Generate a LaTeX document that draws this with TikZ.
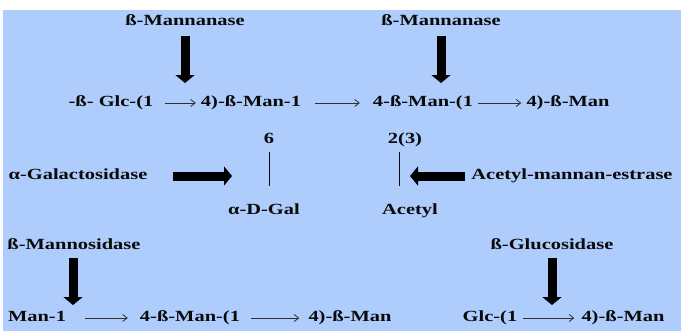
\documentclass[tikz,border=0pt]{standalone}
\usepackage{fontspec}
\setmainfont{Liberation Serif}
\usepackage{graphicx}
\usetikzlibrary{arrows.meta}
\definecolor{bgblue}{RGB}{174,204,252}
\definecolor{ink}{RGB}{10,10,10}
\newcommand{\sx}[1]{\scalebox{1.32}[1]{#1}}
\begin{document}
\begin{tikzpicture}[x=1pt,y=-1pt,
  lbl/.style={inner sep=0pt, text=ink, text height=10pt, text depth=3pt,
    font=\fontsize{15.5}{17}\selectfont\bfseries},
  fat/.style={line width=9pt, draw=black, -{Triangle[width=19pt,length=8pt]}},
  thinarr/.style={line width=0.8pt, draw=ink!85, -{Straight Barb[length=4.5pt,width=7pt]}},
  bond/.style={line width=0.8pt, draw=ink}]
\useasboundingbox (0,0) rectangle (681,333);
\fill[bgblue] (3,10) rectangle (681,331);
% top enzymes
\node[lbl] (m1) at (185,22) {\sx{ß-Mannanase}};
\node[lbl] (m2) at (441,22) {\sx{ß-Mannanase}};
\coordinate (m1t) at (185,83);
\coordinate (m2t) at (441,83);
\draw[fat] ([yshift=-7pt]m1.south) -- (m1t);
\draw[fat] ([yshift=-7pt]m2.south) -- (m2t);
% row 1
\node[lbl] (a1) at (111,103) {\sx{-ß- Glc-(1}};
\node[lbl] (a2) at (251,103) {\sx{4)-ß-Man-1}};
\node[lbl] (a3) at (423,103) {\sx{4-ß-Man-(1}};
\node[lbl] (a4) at (568,103) {\sx{4)-ß-Man}};
\draw[thinarr] ([xshift=11pt]a1.east) -- ([xshift=-5pt]a2.west);
\draw[thinarr] ([xshift=14pt]a2.east) -- ([xshift=-13pt]a3.west);
\draw[thinarr] ([xshift=5pt]a3.east) -- ([xshift=-5pt]a4.west);
% middle
\node[lbl] (six) at (269,140) {\sx{6}};
\node[lbl] (two) at (405,140) {\sx{2(3)}};
\node[lbl] (gal) at (264,211) {\sx{α-D-Gal}};
\node[lbl] (ace) at (410,211) {\sx{Acetyl}};
\draw[bond] ([yshift=-5pt]six.south) -- ([yshift=-39pt]six.south);
\draw[bond] ([xshift=-6pt,yshift=-5pt]two.south) -- ([xshift=-6pt,yshift=-39pt]two.south);
\node[lbl] (agal) at (78,176) {\sx{α-Galactosidase}};
\node[lbl] (ame) at (572,176) {\sx{Acetyl-mannan-estrase}};
\coordinate (gt) at (232,176);
\coordinate (et) at (410,176);
\draw[fat] ([xshift=25pt]agal.east) -- (gt);
\draw[fat] ([xshift=-6pt]ame.west) -- (et);
% bottom enzymes
\node[lbl] (bm) at (74,246) {\sx{ß-Mannosidase}};
\node[lbl] (bg) at (552,246) {\sx{ß-Glucosidase}};
\coordinate (bmt) at (73,305);
\coordinate (bgt) at (552,305);
\draw[fat] ([xshift=-1pt,yshift=-5pt]bm.south) -- (bmt);
\draw[fat] ([yshift=-5pt]bg.south) -- (bgt);
% bottom row
\node[lbl] (b1) at (37,318) {\sx{Man-1}};
\node[lbl] (b2) at (190,318) {\sx{4-ß-Man-(1}};
\node[lbl] (b3) at (350,318) {\sx{4)-ß-Man}};
\node[lbl] (b4) at (490,318) {\sx{Glc-(1}};
\node[lbl] (b5) at (623,318) {\sx{4)-ß-Man}};
\draw[thinarr] ([xshift=19pt]b1.east) -- ([xshift=-12pt]b2.west);
\draw[thinarr] ([xshift=11pt]b2.east) -- ([xshift=-9pt]b3.west);
\draw[thinarr] ([xshift=6pt]b4.east) -- ([xshift=-7pt]b5.west);
\end{tikzpicture}
\end{document}
